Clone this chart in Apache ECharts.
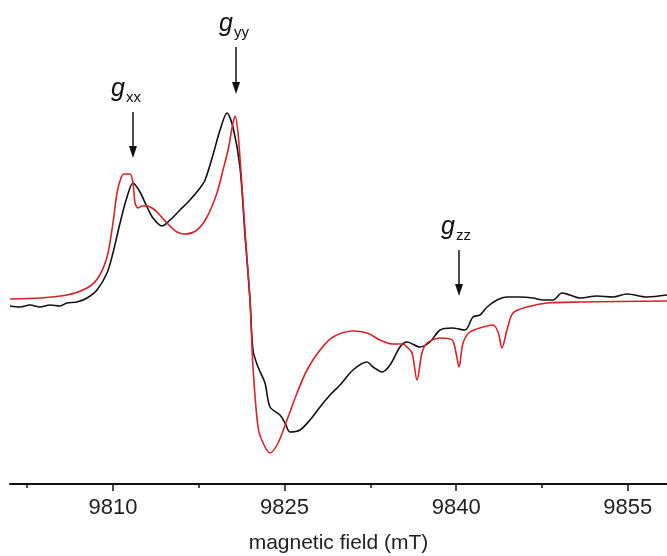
<!DOCTYPE html>
<html>
<head>
<meta charset="utf-8">
<script src="https://cdn.jsdelivr.net/npm/echarts@6/dist/echarts.min.js"></script>
<style>
  html, body { margin: 0; padding: 0; background: #fff; }
  #chart { width: 667px; height: 556px; }
</style>
</head>
<body>
<div id="chart"></div>
<script>
// experimental spectrum (black), field in mT, intensity in arbitrary units
var expField = [9801.00, 9801.87, 9802.75, 9803.62, 9804.50, 9805.37, 9805.98, 9806.86, 9807.73, 9808.60,
  9809.48, 9810.00, 9810.62, 9811.23, 9811.75, 9812.36, 9812.98, 9813.50, 9814.29, 9814.99,
  9815.86, 9816.73, 9817.61, 9818.05, 9818.74, 9819.36, 9819.97, 9820.49, 9821.10, 9821.54,
  9821.98, 9822.24, 9822.68, 9823.29, 9823.73, 9824.60, 9825.04, 9825.47, 9826.35, 9827.22,
  9828.10, 9828.97, 9829.85, 9830.98, 9832.21, 9832.73, 9833.52, 9834.22, 9835.09, 9835.70,
  9836.84, 9837.71, 9838.59, 9839.64, 9840.77, 9841.47, 9842.08, 9842.70, 9843.57, 9844.44,
  9845.58, 9846.72, 9847.59, 9848.46, 9849.25, 9849.95, 9850.82, 9852.31, 9853.71, 9854.93,
  9856.68, 9858.43];
var expSignal = [-0.06, -0.07, -0.05, -0.07, -0.05, -0.06, -0.03, -0.02, 0.02, 0.10,
  0.27, 0.47, 0.77, 1.03, 1.17, 1.08, 0.93, 0.82, 0.74, 0.80,
  0.90, 1.00, 1.12, 1.20, 1.45, 1.70, 1.87, 1.73, 1.33, 0.65,
  0.00, -0.50, -0.67, -0.83, -1.07, -1.15, -1.23, -1.32, -1.30, -1.20,
  -1.07, -0.95, -0.85, -0.70, -0.62, -0.67, -0.72, -0.65, -0.47, -0.42,
  -0.47, -0.42, -0.30, -0.28, -0.30, -0.17, -0.15, -0.07, 0.00, 0.03,
  0.03, 0.02, 0.00, 0.00, 0.07, 0.05, 0.02, 0.04, 0.03, 0.06,
  0.03, 0.05];

// simulated spectrum (red)
var simField = [9801.00, 9803.62, 9805.98, 9807.73, 9808.69, 9809.48, 9810.00, 9810.35, 9810.70, 9810.97,
  9811.49, 9811.75, 9811.93, 9812.19, 9812.54, 9812.98, 9813.41, 9813.85, 9814.72, 9815.60,
  9816.30, 9817.35, 9818.22, 9819.09, 9819.62, 9820.06, 9820.41, 9820.67, 9820.93, 9821.28,
  9821.63, 9821.98, 9822.24, 9822.68, 9823.12, 9823.73, 9824.43, 9825.21, 9826.09, 9826.96,
  9828.10, 9829.23, 9830.98, 9832.21, 9833.34, 9834.48, 9835.35, 9835.70, 9836.14, 9836.58,
  9837.01, 9837.45, 9838.59, 9839.64, 9839.99, 9840.25, 9840.60, 9841.21, 9842.35, 9843.22,
  9843.66, 9844.01, 9844.44, 9844.97, 9846.19, 9847.94, 9850.82, 9858.43];
var simSignal = [0.01, 0.02, 0.05, 0.12, 0.22, 0.43, 0.77, 1.07, 1.22, 1.26,
  1.26, 1.17, 0.97, 0.92, 0.94, 0.94, 0.92, 0.88, 0.77, 0.68,
  0.66, 0.70, 0.83, 1.07, 1.30, 1.50, 1.72, 1.84, 1.67, 1.13,
  0.55, 0.00, -0.67, -1.27, -1.43, -1.53, -1.43, -1.20, -0.93, -0.70,
  -0.50, -0.37, -0.31, -0.33, -0.40, -0.44, -0.44, -0.47, -0.53, -0.80,
  -0.53, -0.43, -0.38, -0.40, -0.53, -0.67, -0.43, -0.32, -0.27, -0.25,
  -0.32, -0.48, -0.30, -0.13, -0.07, -0.03, -0.02, -0.01];

// g-tensor markers: label, field, arrow top, arrow tip
var gNames = ["xx", "yy", "zz"];
var gField = [9811.75, 9820.76, 9840.25];
var gArrowTop = [1.88, 2.53, 0.50];
var gArrowTip = [1.48, 2.12, 0.10];
var gLabelShift = [-7, -2, -3];

var majorTicks = [9810, 9825, 9840, 9855];
var minorTicks = [9802.5, 9817.5, 9832.5, 9847.5];

var FONT = "Liberation Sans, Arial, sans-serif";

function zip(xs, ys) {
  return xs.map(function (x, i) { return [x, ys[i]]; });
}

var arrowData = gNames.map(function (name, i) {
  return [
    {
      coord: [gField[i], gArrowTop[i]],
      label: { formatter: "{g|g}{s|" + name + "}", offset: [gLabelShift[i], 0] }
    },
    { coord: [gField[i], gArrowTip[i]] }
  ];
});

var chart = echarts.init(document.getElementById("chart"));
chart.setOption({
  animation: false,
  grid: { left: 10, right: 0, top: 0, bottom: 72, containLabel: false, outerBoundsMode: "none" },
  xAxis: [
    {
      type: "value",
      min: 9801,
      max: 9858.43,
      name: "magnetic field (mT)",
      nameLocation: "middle",
      nameGap: 49,
      nameTextStyle: { fontFamily: FONT, fontSize: 21, color: "#222" },
      axisLine: { show: true, onZero: false, lineStyle: { color: "#111", width: 2 } },
      axisTick: { show: true, length: 7, customValues: majorTicks, lineStyle: { color: "#111", width: 1.5 } },
      axisLabel: {
        customValues: majorTicks,
        fontFamily: FONT,
        fontSize: 22,
        color: "#222",
        margin: 13,
        formatter: function (v) { return String(v); }
      },
      splitLine: { show: false }
    },
    {
      // short minor ticks halfway between the labelled ones
      type: "value",
      position: "bottom",
      min: 9801,
      max: 9858.43,
      axisLine: { show: false, onZero: false },
      axisTick: { show: true, length: 4, customValues: minorTicks, lineStyle: { color: "#111", width: 1.5 } },
      axisLabel: { show: false },
      splitLine: { show: false }
    }
  ],
  yAxis: {
    type: "value",
    min: -1.84,
    max: 3.0,
    show: false
  },
  series: [
    {
      name: "experiment",
      type: "line",
      data: zip(expField, expSignal),
      showSymbol: false,
      smooth: 0.3,
      lineStyle: { color: "#111", width: 1.6 },
      markLine: {
        silent: true,
        symbol: ["none", "triangle"],
        symbolSize: [8, 12],
        lineStyle: { type: "solid", color: "#111", width: 1.5 },
        label: {
          show: true,
          position: "start",
          distance: 10,
          rich: {
            g: { fontFamily: FONT, fontStyle: "italic", fontSize: 25, color: "#111", verticalAlign: "bottom" },
            s: { fontFamily: FONT, fontSize: 15, color: "#111", verticalAlign: "bottom", padding: [0, 0, -3, 1] }
          }
        },
        data: arrowData
      }
    },
    {
      name: "simulation",
      type: "line",
      data: zip(simField, simSignal),
      showSymbol: false,
      smooth: 0.3,
      lineStyle: { color: "#d42428", width: 1.6 }
    }
  ]
});
</script>
</body>
</html>
